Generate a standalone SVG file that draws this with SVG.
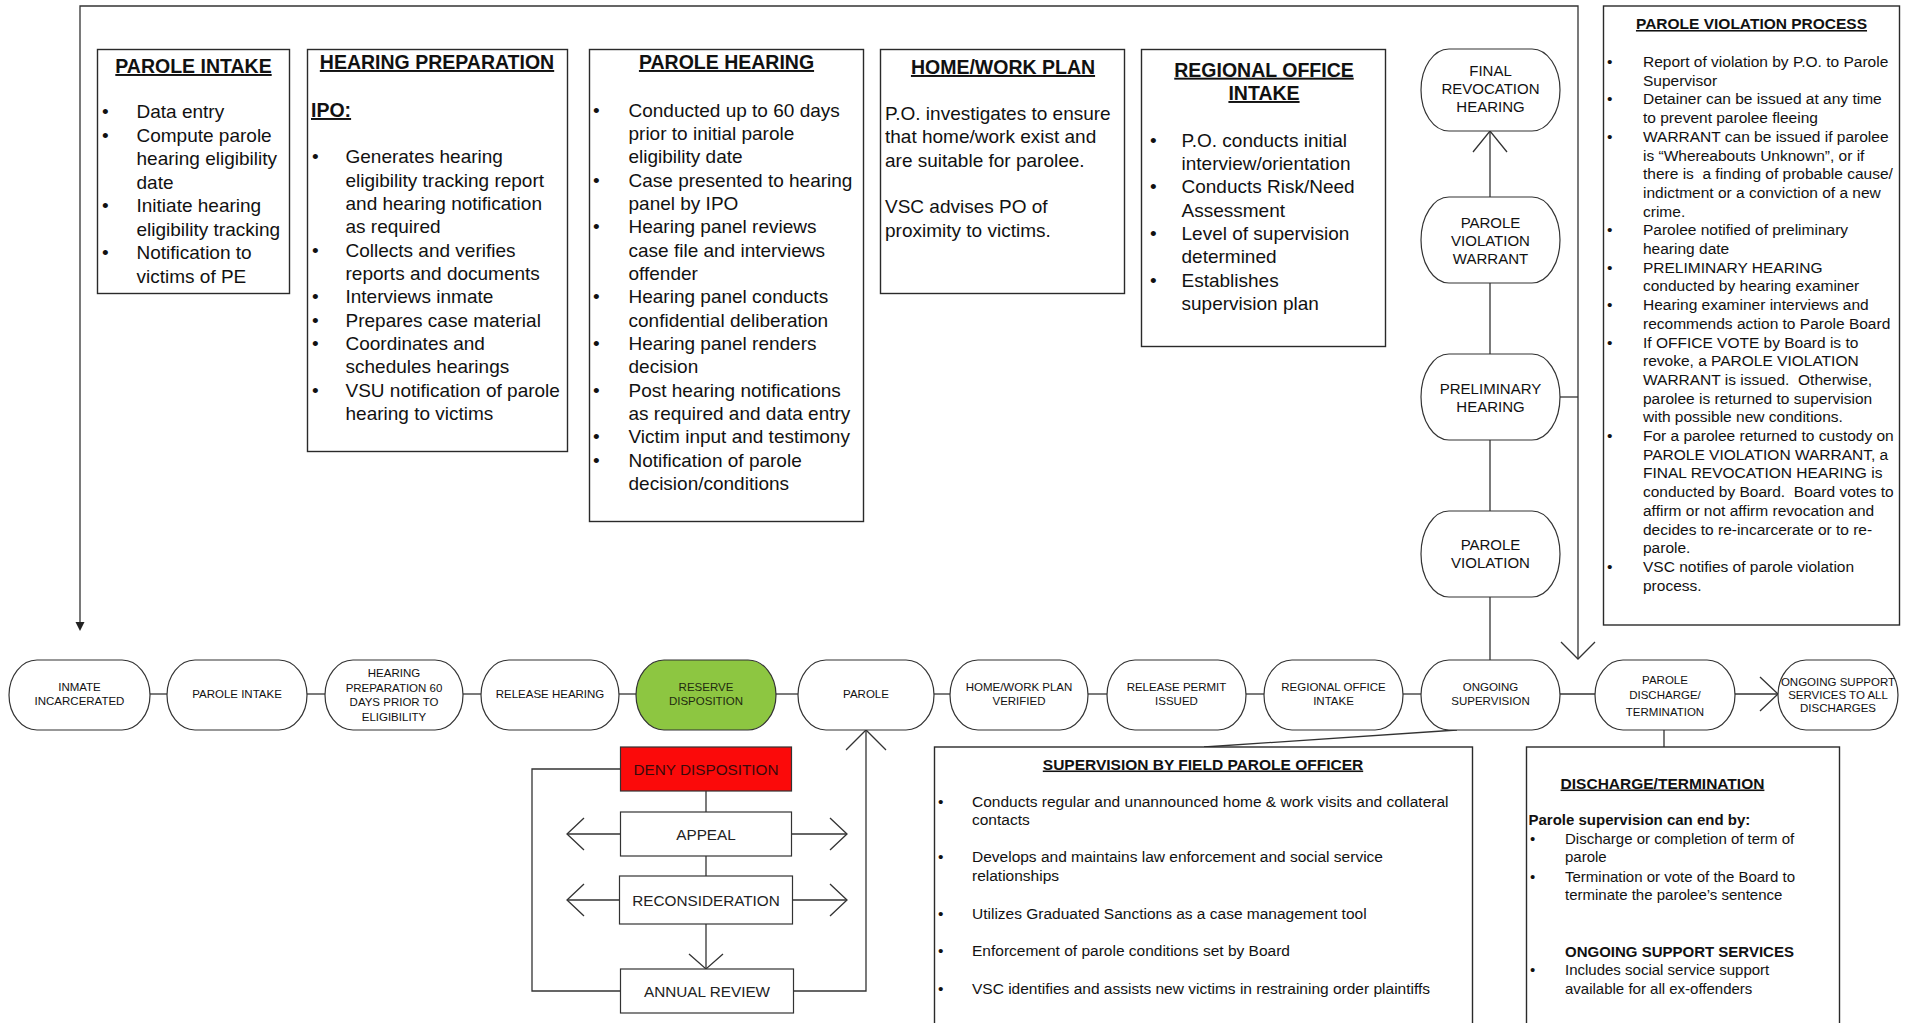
<svg xmlns="http://www.w3.org/2000/svg" width="1909" height="1023" viewBox="0 0 1909 1023">
<style>
.box{fill:#fff;stroke:#2a2a2a;stroke-width:1.4}
.nd{fill:#fff;stroke:#333;stroke-width:1.2}
.ln{fill:none;stroke:#333;stroke-width:1.3}
text{font-family:"Liberation Sans",Arial,sans-serif;fill:#111}
.b19{font-size:19px}
.h19{font-size:19.5px;font-weight:bold;text-decoration:underline;text-anchor:middle}
.b15{font-size:15.5px}
.h15{font-size:15.5px;font-weight:bold;text-decoration:underline;text-anchor:middle}
.bb15{font-size:15px;font-weight:bold}
.d15{font-size:15px}
.nl{font-size:11.5px;text-anchor:middle}
.cl{font-size:15px;text-anchor:middle}
.sb{font-size:15.3px;text-anchor:middle;fill:#222}
</style>
<rect x="0" y="0" width="1909" height="1023" fill="#fff"/>

<g id="connectors">
  <polyline class="ln" points="80,622 80,6 1578,6 1578,658"/>
  <polygon points="75.5,622 84.5,622 80,631" fill="#222"/>
  <polyline class="ln" points="1561,642 1578,659 1595,642"/>
  <line class="ln" x1="1560" y1="397" x2="1578" y2="397"/>
  <line class="ln" x1="1490" y1="131" x2="1490" y2="197"/>
  <polyline class="ln" points="1473,152 1490,131 1507,152"/>
  <line class="ln" x1="1490" y1="283" x2="1490" y2="354"/>
  <line class="ln" x1="1490" y1="440" x2="1490" y2="511"/>
  <line class="ln" x1="1490" y1="597" x2="1490" y2="660"/>
  <line class="ln" x1="150" y1="694" x2="167" y2="694"/>
  <line class="ln" x1="307" y1="694" x2="325" y2="694"/>
  <line class="ln" x1="463" y1="694" x2="481" y2="694"/>
  <line class="ln" x1="619" y1="694" x2="636" y2="694"/>
  <line class="ln" x1="776" y1="694" x2="798" y2="694"/>
  <line class="ln" x1="934" y1="694" x2="950" y2="694"/>
  <line class="ln" x1="1088" y1="694" x2="1107" y2="694"/>
  <line class="ln" x1="1246" y1="694" x2="1264" y2="694"/>
  <line class="ln" x1="1403" y1="694" x2="1421" y2="694"/>
  <line class="ln" x1="1560" y1="694" x2="1595" y2="694"/>
  <line class="ln" x1="1735" y1="694" x2="1778" y2="694"/>
  <polyline class="ln" points="1760,677 1778,694 1760,711"/>
  <line class="ln" x1="1457" y1="730" x2="1204" y2="747"/>
  <line class="ln" x1="1664" y1="730" x2="1664" y2="747"/>
  <line class="ln" x1="706" y1="791" x2="706" y2="812"/>
  <line class="ln" x1="706" y1="856" x2="706" y2="876"/>
  <line class="ln" x1="706" y1="924" x2="706" y2="969"/>
  <polyline class="ln" points="689,954 706,969 723,954"/>
  <line class="ln" x1="620" y1="834" x2="567" y2="834"/>
  <polyline class="ln" points="584,818 567,834 584,850"/>
  <line class="ln" x1="792" y1="834" x2="847" y2="834"/>
  <polyline class="ln" points="830,818 847,834 830,850"/>
  <line class="ln" x1="620" y1="900" x2="567" y2="900"/>
  <polyline class="ln" points="584,884 567,900 584,916"/>
  <line class="ln" x1="793" y1="900" x2="847" y2="900"/>
  <polyline class="ln" points="830,884 847,900 830,916"/>
  <polyline class="ln" points="620,769 532,769 532,991 620,991"/>
  <polyline class="ln" points="794,991 866,991 866,730"/>
  <polyline class="ln" points="846,750 866,730 886,750"/>
</g>

<g id="box-parole-intake">
  <rect class="box" x="97.5" y="49.5" width="192" height="244"/>
  <text class="h19" x="193.5" y="73">PAROLE INTAKE</text>
  <text class="b19">
    <tspan x="102" y="118">•</tspan><tspan x="136.5" y="118">Data entry</tspan>
    <tspan x="102" y="141.5">•</tspan><tspan x="136.5" y="141.5">Compute parole</tspan>
    <tspan x="136.5" y="165">hearing eligibility</tspan>
    <tspan x="136.5" y="188.5">date</tspan>
    <tspan x="102" y="212">•</tspan><tspan x="136.5" y="212">Initiate hearing</tspan>
    <tspan x="136.5" y="235.5">eligibility tracking</tspan>
    <tspan x="102" y="259">•</tspan><tspan x="136.5" y="259">Notification to</tspan>
    <tspan x="136.5" y="282.5">victims of PE</tspan>
  </text>
</g>

<g id="box-hearing-preparation">
  <rect class="box" x="307.5" y="49.5" width="260" height="402"/>
  <text class="h19" x="437" y="69">HEARING PREPARATION</text>
  <text class="h19" x="311" y="117" style="text-anchor:start">IPO:</text>
  <text class="b19">
    <tspan x="312" y="163.3">•</tspan><tspan x="345.5" y="163.3">Generates hearing</tspan>
    <tspan x="345.5" y="186.6">eligibility tracking report</tspan>
    <tspan x="345.5" y="210">and hearing notification</tspan>
    <tspan x="345.5" y="233.3">as required</tspan>
    <tspan x="312" y="256.6">•</tspan><tspan x="345.5" y="256.6">Collects and verifies</tspan>
    <tspan x="345.5" y="280">reports and documents</tspan>
    <tspan x="312" y="303.3">•</tspan><tspan x="345.5" y="303.3">Interviews inmate</tspan>
    <tspan x="312" y="326.6">•</tspan><tspan x="345.5" y="326.6">Prepares case material</tspan>
    <tspan x="312" y="350">•</tspan><tspan x="345.5" y="350">Coordinates and</tspan>
    <tspan x="345.5" y="373.3">schedules hearings</tspan>
    <tspan x="312" y="396.6">•</tspan><tspan x="345.5" y="396.6">VSU notification of parole</tspan>
    <tspan x="345.5" y="420">hearing to victims</tspan>
  </text>
</g>

<g id="box-parole-hearing">
  <rect class="box" x="589.5" y="49.5" width="274" height="472"/>
  <text class="h19" x="726.5" y="69">PAROLE HEARING</text>
  <text class="b19">
    <tspan x="593" y="116.7">•</tspan><tspan x="628.5" y="116.7">Conducted up to 60 days</tspan>
    <tspan x="628.5" y="140">prior to initial parole</tspan>
    <tspan x="628.5" y="163.3">eligibility date</tspan>
    <tspan x="593" y="186.7">•</tspan><tspan x="628.5" y="186.7">Case presented to hearing</tspan>
    <tspan x="628.5" y="210">panel by IPO</tspan>
    <tspan x="593" y="233.3">•</tspan><tspan x="628.5" y="233.3">Hearing panel reviews</tspan>
    <tspan x="628.5" y="256.7">case file and interviews</tspan>
    <tspan x="628.5" y="280">offender</tspan>
    <tspan x="593" y="303.3">•</tspan><tspan x="628.5" y="303.3">Hearing panel conducts</tspan>
    <tspan x="628.5" y="326.7">confidential deliberation</tspan>
    <tspan x="593" y="350">•</tspan><tspan x="628.5" y="350">Hearing panel renders</tspan>
    <tspan x="628.5" y="373.3">decision</tspan>
    <tspan x="593" y="396.7">•</tspan><tspan x="628.5" y="396.7">Post hearing notifications</tspan>
    <tspan x="628.5" y="420">as required and data entry</tspan>
    <tspan x="593" y="443.3">•</tspan><tspan x="628.5" y="443.3">Victim input and testimony</tspan>
    <tspan x="593" y="466.7">•</tspan><tspan x="628.5" y="466.7">Notification of parole</tspan>
    <tspan x="628.5" y="490">decision/conditions</tspan>
  </text>
</g>

<g id="box-home-work-plan">
  <rect class="box" x="880.5" y="49.5" width="244" height="244"/>
  <text class="h19" x="1003" y="74">HOME/WORK PLAN</text>
  <text class="b19">
    <tspan x="885" y="120">P.O. investigates to ensure</tspan>
    <tspan x="885" y="143.3">that home/work exist and</tspan>
    <tspan x="885" y="166.6">are suitable for parolee.</tspan>
    <tspan x="885" y="213.3">VSC advises PO of</tspan>
    <tspan x="885" y="236.6">proximity to victims.</tspan>
  </text>
</g>

<g id="box-regional-office-intake">
  <rect class="box" x="1141.5" y="49.5" width="244" height="297"/>
  <text class="h19" x="1264" y="76.7">REGIONAL OFFICE</text>
  <text class="h19" x="1264" y="100">INTAKE</text>
  <text class="b19">
    <tspan x="1150" y="146.7">•</tspan><tspan x="1181.5" y="146.7">P.O. conducts initial</tspan>
    <tspan x="1181.5" y="170">interview/orientation</tspan>
    <tspan x="1150" y="193.3">•</tspan><tspan x="1181.5" y="193.3">Conducts Risk/Need</tspan>
    <tspan x="1181.5" y="216.7">Assessment</tspan>
    <tspan x="1150" y="240">•</tspan><tspan x="1181.5" y="240">Level of supervision</tspan>
    <tspan x="1181.5" y="263.3">determined</tspan>
    <tspan x="1150" y="286.7">•</tspan><tspan x="1181.5" y="286.7">Establishes</tspan>
    <tspan x="1181.5" y="310">supervision plan</tspan>
  </text>
</g>

<g id="box-parole-violation-process">
  <rect class="box" x="1603.5" y="6" width="296" height="619"/>
  <text class="h15" x="1751.5" y="29">PAROLE VIOLATION PROCESS</text>
  <text class="b15">
    <tspan x="1607" y="67">•</tspan><tspan x="1643" y="67">Report of violation by P.O. to Parole</tspan>
    <tspan x="1643" y="85.7">Supervisor</tspan>
    <tspan x="1607" y="104.4">•</tspan><tspan x="1643" y="104.4">Detainer can be issued at any time</tspan>
    <tspan x="1643" y="123.1">to prevent parolee fleeing</tspan>
    <tspan x="1607" y="141.8">•</tspan><tspan x="1643" y="141.8">WARRANT can be issued if parolee</tspan>
    <tspan x="1643" y="160.5">is “Whereabouts Unknown”, or if</tspan>
    <tspan x="1643" y="179.2">there is&#160; a finding of probable cause/</tspan>
    <tspan x="1643" y="197.9">indictment or a conviction of a new</tspan>
    <tspan x="1643" y="216.6">crime.</tspan>
    <tspan x="1607" y="235.3">•</tspan><tspan x="1643" y="235.3">Parolee notified of preliminary</tspan>
    <tspan x="1643" y="254">hearing date</tspan>
    <tspan x="1607" y="272.7">•</tspan><tspan x="1643" y="272.7">PRELIMINARY HEARING</tspan>
    <tspan x="1643" y="291.4">conducted by hearing examiner</tspan>
    <tspan x="1607" y="310.1">•</tspan><tspan x="1643" y="310.1">Hearing examiner interviews and</tspan>
    <tspan x="1643" y="328.8">recommends action to Parole Board</tspan>
    <tspan x="1607" y="347.5">•</tspan><tspan x="1643" y="347.5">If OFFICE VOTE by Board is to</tspan>
    <tspan x="1643" y="366.2">revoke, a PAROLE VIOLATION</tspan>
    <tspan x="1643" y="384.9">WARRANT is issued.&#160; Otherwise,</tspan>
    <tspan x="1643" y="403.6">parolee is returned to supervision</tspan>
    <tspan x="1643" y="422.3">with possible new conditions.</tspan>
    <tspan x="1607" y="441">•</tspan><tspan x="1643" y="441">For a parolee returned to custody on</tspan>
    <tspan x="1643" y="459.7">PAROLE VIOLATION WARRANT, a</tspan>
    <tspan x="1643" y="478.4">FINAL REVOCATION HEARING is</tspan>
    <tspan x="1643" y="497.1">conducted by Board.&#160; Board votes to</tspan>
    <tspan x="1643" y="515.8">affirm or not affirm revocation and</tspan>
    <tspan x="1643" y="534.5">decides to re-incarcerate or to re-</tspan>
    <tspan x="1643" y="553.2">parole.</tspan>
    <tspan x="1607" y="571.9">•</tspan><tspan x="1643" y="571.9">VSC notifies of parole violation</tspan>
    <tspan x="1643" y="590.6">process.</tspan>
  </text>
</g>

<g id="node-final-revocation-hearing">
  <rect class="nd" x="1421" y="49" width="139" height="82" rx="28" ry="41"/>
  <text class="cl"><tspan x="1490.5" y="76">FINAL</tspan><tspan x="1490.5" y="94">REVOCATION</tspan><tspan x="1490.5" y="112">HEARING</tspan></text>
</g>
<g id="node-parole-violation-warrant">
  <rect class="nd" x="1421" y="197" width="139" height="86" rx="28" ry="43"/>
  <text class="cl"><tspan x="1490.5" y="228">PAROLE</tspan><tspan x="1490.5" y="246">VIOLATION</tspan><tspan x="1490.5" y="264">WARRANT</tspan></text>
</g>
<g id="node-preliminary-hearing">
  <rect class="nd" x="1421" y="354" width="139" height="86" rx="28" ry="43"/>
  <text class="cl"><tspan x="1490.5" y="393.5">PRELIMINARY</tspan><tspan x="1490.5" y="411.5">HEARING</tspan></text>
</g>
<g id="node-parole-violation">
  <rect class="nd" x="1421" y="511" width="139" height="86" rx="28" ry="43"/>
  <text class="cl"><tspan x="1490.5" y="550">PAROLE</tspan><tspan x="1490.5" y="568">VIOLATION</tspan></text>
</g>

<g id="node-inmate-incarcerated">
  <rect class="nd" x="9" y="660" width="141" height="70" rx="28" ry="35"/>
  <text class="nl"><tspan x="79.5" y="691">INMATE</tspan><tspan x="79.5" y="705">INCARCERATED</tspan></text>
</g>
<g id="node-parole-intake">
  <rect class="nd" x="167" y="660" width="140" height="70" rx="28" ry="35"/>
  <text class="nl" x="237" y="698">PAROLE INTAKE</text>
</g>
<g id="node-hearing-preparation">
  <rect class="nd" x="325" y="660" width="138" height="70" rx="28" ry="35"/>
  <text class="nl"><tspan x="394" y="677">HEARING</tspan><tspan x="394" y="691.5">PREPARATION 60</tspan><tspan x="394" y="706">DAYS PRIOR TO</tspan><tspan x="394" y="720.5">ELIGIBILITY</tspan></text>
</g>
<g id="node-release-hearing">
  <rect class="nd" x="481" y="660" width="138" height="70" rx="28" ry="35"/>
  <text class="nl" x="550" y="698">RELEASE HEARING</text>
</g>
<g id="node-reserve-disposition">
  <rect class="nd" x="636" y="660" width="140" height="70" rx="28" ry="35" style="fill:#8dc641"/>
  <text class="nl" style="fill:#1f2a10"><tspan x="706" y="691">RESERVE</tspan><tspan x="706" y="705">DISPOSITION</tspan></text>
</g>
<g id="node-parole">
  <rect class="nd" x="798" y="660" width="136" height="70" rx="28" ry="35"/>
  <text class="nl" x="866" y="698">PAROLE</text>
</g>
<g id="node-home-work-plan-verified">
  <rect class="nd" x="950" y="660" width="138" height="70" rx="28" ry="35"/>
  <text class="nl"><tspan x="1019" y="691">HOME/WORK PLAN</tspan><tspan x="1019" y="705">VERIFIED</tspan></text>
</g>
<g id="node-release-permit-issued">
  <rect class="nd" x="1107" y="660" width="139" height="70" rx="28" ry="35"/>
  <text class="nl"><tspan x="1176.5" y="691">RELEASE PERMIT</tspan><tspan x="1176.5" y="705">ISSUED</tspan></text>
</g>
<g id="node-regional-office-intake">
  <rect class="nd" x="1264" y="660" width="139" height="70" rx="28" ry="35"/>
  <text class="nl"><tspan x="1333.5" y="691">REGIONAL OFFICE</tspan><tspan x="1333.5" y="705">INTAKE</tspan></text>
</g>
<g id="node-ongoing-supervision">
  <rect class="nd" x="1421" y="660" width="139" height="70" rx="28" ry="35"/>
  <text class="nl"><tspan x="1490.5" y="691">ONGOING</tspan><tspan x="1490.5" y="705">SUPERVISION</tspan></text>
</g>
<g id="node-parole-discharge-termination">
  <rect class="nd" x="1595" y="660" width="140" height="70" rx="28" ry="35"/>
  <text class="nl"><tspan x="1665" y="684">PAROLE</tspan><tspan x="1665" y="699">DISCHARGE/</tspan><tspan x="1665" y="716">TERMINATION</tspan></text>
</g>
<g id="node-ongoing-support-services">
  <rect class="nd" x="1778" y="660" width="120" height="70" rx="28" ry="35"/>
  <text class="nl"><tspan x="1838" y="686">ONGOING SUPPORT</tspan><tspan x="1838" y="699">SERVICES TO ALL</tspan><tspan x="1838" y="712">DISCHARGES</tspan></text>
</g>

<g id="node-deny-disposition">
  <rect x="620.5" y="747" width="171" height="44" style="fill:#fb0a0a;stroke:#333;stroke-width:1.2"/>
  <text class="sb" x="706" y="774.5" style="fill:#3a0a0a">DENY DISPOSITION</text>
</g>
<g id="node-appeal">
  <rect class="nd" x="620.5" y="812" width="171" height="44"/>
  <text class="sb" x="706" y="839.5">APPEAL</text>
</g>
<g id="node-reconsideration">
  <rect class="nd" x="619.5" y="876" width="173" height="48"/>
  <text class="sb" x="706" y="905.5">RECONSIDERATION</text>
</g>
<g id="node-annual-review">
  <rect class="nd" x="620.5" y="969" width="173" height="44"/>
  <text class="sb" x="707" y="996.5">ANNUAL REVIEW</text>
</g>

<g id="box-supervision-field-officer">
  <rect class="box" x="934.5" y="747" width="538" height="300"/>
  <text class="h15" x="1203" y="769.5">SUPERVISION BY FIELD PAROLE OFFICER</text>
  <text class="b15">
    <tspan x="938" y="806.5">•</tspan><tspan x="972" y="806.5">Conducts regular and unannounced home &amp; work visits and collateral</tspan>
    <tspan x="972" y="825">contacts</tspan>
    <tspan x="938" y="862">•</tspan><tspan x="972" y="862">Develops and maintains law enforcement and social service</tspan>
    <tspan x="972" y="880.5">relationships</tspan>
    <tspan x="938" y="918.5">•</tspan><tspan x="972" y="918.5">Utilizes Graduated Sanctions as a case management tool</tspan>
    <tspan x="938" y="956">•</tspan><tspan x="972" y="956">Enforcement of parole conditions set by Board</tspan>
    <tspan x="938" y="993.5">•</tspan><tspan x="972" y="993.5">VSC identifies and assists new victims in restraining order plaintiffs</tspan>
  </text>
</g>

<g id="box-discharge-termination">
  <rect class="box" x="1526.5" y="747" width="313" height="300"/>
  <text class="h15" x="1662.5" y="788.5">DISCHARGE/TERMINATION</text>
  <text class="bb15" x="1528.5" y="825">Parole supervision can end by:</text>
  <text class="d15">
    <tspan x="1530" y="843.5">•</tspan><tspan x="1565" y="843.5">Discharge or completion of term of</tspan>
    <tspan x="1565" y="862">parole</tspan>
    <tspan x="1530" y="881.5">•</tspan><tspan x="1565" y="881.5">Termination or vote of the Board to</tspan>
    <tspan x="1565" y="900">terminate the parolee’s sentence</tspan>
  </text>
  <text class="bb15" x="1565" y="956.5">ONGOING SUPPORT SERVICES</text>
  <text class="d15">
    <tspan x="1530" y="975">•</tspan><tspan x="1565" y="975">Includes social service support</tspan>
    <tspan x="1565" y="993.5">available for all ex-offenders</tspan>
  </text>
</g>
</svg>
